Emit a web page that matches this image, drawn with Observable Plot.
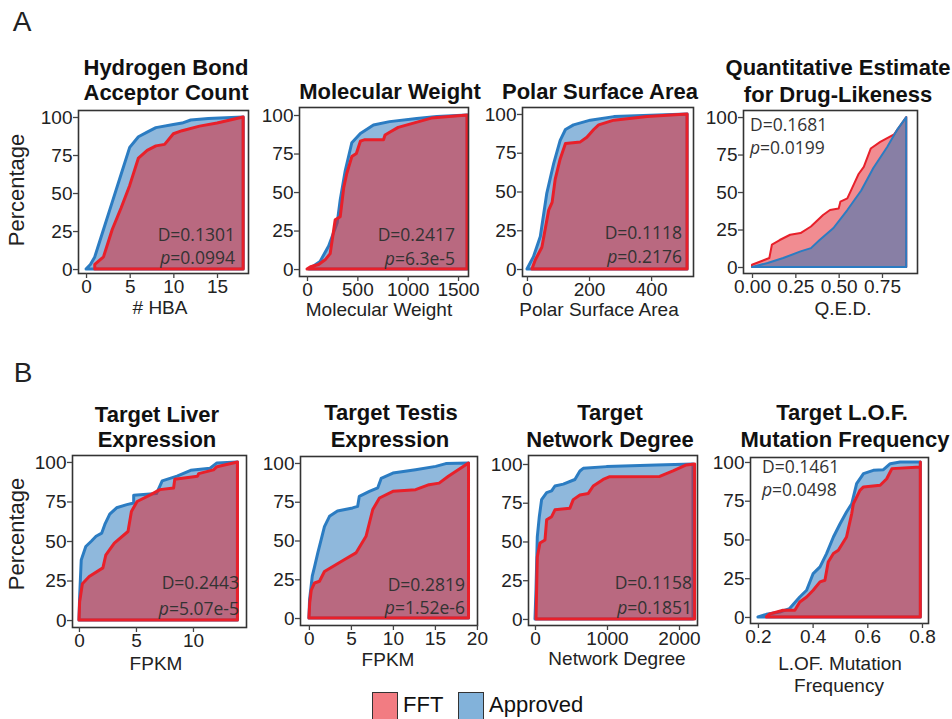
<!DOCTYPE html>
<html>
<head>
<meta charset="utf-8">
<script src="https://cdn.jsdelivr.net/npm/d3@7"></script>
<script src="https://cdn.jsdelivr.net/npm/@observablehq/plot@0.6"></script>
<style>
  html, body { margin: 0; padding: 0; background: #fff; }
  #root { position: relative; width: 952px; height: 719px; overflow: hidden;
          font-family: "Liberation Sans", Arial, Helvetica, sans-serif; color: #222; }
  .abs { position: absolute; white-space: nowrap; line-height: 1; }
  .c { transform: translate(-50%, -50%); text-align: center; }
  .title { font-weight: bold; font-size: 22px; color: #111; }
  .alabel { font-size: 19px; color: #222; }
  .ylab { font-size: 22px; color: #222; transform: translate(-50%, -50%) rotate(-90deg); }
  .letter { font-size: 28px; color: #222; }
  .stat { font-family: "Open Sans", "Noto Sans", sans-serif; font-size: 17.5px; color: #333; }
  .statR { transform: translate(-100%, -50%); }
  .statL { transform: translate(0, -50%); }
  .sw { position: absolute; width: 26px; height: 30px; border: 1px solid #333; box-sizing: border-box; }
  .leg { font-size: 22px; color: #111; }
</style>
</head>
<body>
<div id="root"></div>
<script>
// ---------- DATA ----------
// Legend / series
const seriesNames = ["FFT", "Approved"];

// A1: Hydrogen Bond Acceptor Count
const hbaApprovedX = [0, 0.5, 1, 2, 3, 4, 5, 6, 7, 8, 10, 11, 12, 14, 18];
const hbaApprovedY = [0, 3, 8, 26, 44, 62, 80, 87, 90, 93, 95, 96, 98, 99, 100];
const hbaFftX = [1, 1, 2, 3, 4, 5, 6, 7, 8, 9, 10, 11, 13, 15, 18];
const hbaFftY = [0, 3, 8, 26, 40, 55, 73, 78, 81, 82, 89, 91, 94, 96, 100];

// A2: Molecular Weight
const mwApprovedX = [20, 130, 215, 300, 330, 380, 445, 530, 660, 820, 1090, 1290, 1590];
const mwApprovedY = [0, 5, 15, 30, 45, 64, 82, 88, 93.5, 95.7, 97.8, 99, 100];
const mwFftX = [0, 35, 115, 180, 230, 280, 330, 365, 395, 445, 490, 530, 575, 760, 775, 825, 905, 1155, 1235, 1590];
const mwFftY = [0, 1.5, 3, 6, 10, 32, 34, 53, 62, 73, 75, 83, 84, 84, 87, 89, 92, 96.5, 98, 100];

// A3: Polar Surface Area
const psaApprovedX = [0, 21, 43, 64, 86, 107, 124, 150, 204, 280, 516];
const psaApprovedY = [0, 8, 21, 49, 68, 83, 90, 93, 96, 98.3, 100];
const psaFftX = [16, 27, 48, 70, 81, 91, 107, 124, 172, 193, 215, 231, 280, 387, 516];
const psaFftY = [0, 6, 14, 38, 43, 58, 71, 81, 82, 85, 90, 93, 96, 98.3, 100];

// A4: Quantitative Estimate for Drug-Likeness
const qedApprovedX = [0, 0.09, 0.18, 0.28, 0.34, 0.39, 0.47, 0.55, 0.63, 0.70, 0.78, 0.84, 0.89];
const qedApprovedY = [0, 2.7, 6, 10.4, 12.6, 18, 26, 38, 51, 66, 80, 92, 100];
const qedFftX = [0, 0.1, 0.115, 0.16, 0.22, 0.28, 0.34, 0.41, 0.45, 0.5, 0.51, 0.55, 0.59, 0.615, 0.645, 0.685, 0.74, 0.78, 0.82, 0.89];
const qedFftY = [1.5, 6, 15, 18, 21.5, 22.6, 27, 34.7, 38, 39, 43.6, 45.8, 55.8, 62, 66.8, 79, 83.4, 86, 88.5, 100];

// B1: Target Liver Expression
const liverApprovedX = [0, 0.06, 0.2, 0.6, 1.1, 1.5, 2.0, 2.3, 2.7, 3.3, 4.2, 4.8, 4.8, 6.8, 7.3, 8.6, 9.8, 11.5, 12.1, 13.9];
const liverApprovedY = [0, 15, 38, 46.5, 50, 53, 55, 61, 67, 71, 73, 74, 79, 80, 88, 91, 94.7, 96, 99.4, 100];
const liverFftX = [0, 0.06, 0.3, 0.9, 2.1, 2.35, 3.1, 4.3, 4.6, 5.1, 6.3, 7.1, 8.3, 8.4, 10.4, 10.5, 11.8, 12.1, 13.9];
const liverFftY = [0, 11.6, 23, 27.5, 33, 41, 48.6, 56, 68.7, 75, 79.3, 82.5, 83.5, 89, 91, 92.6, 95, 97, 100];

// B2: Target Testis Expression
const testisApprovedX = [0, 0.08, 0.4, 0.67, 1.06, 1.46, 1.85, 2.45, 3.4, 5.2, 5.8, 6.0, 7.2, 8.2, 8.6, 10, 12.7, 15.1, 16.3, 19];
const testisApprovedY = [0, 12, 27, 33, 42, 50.5, 59, 65.6, 69, 71, 72, 78.5, 81.7, 84, 90, 93.5, 95.7, 97.8, 99.6, 100];
const testisFftX = [0, 0.1, 0.28, 0.67, 1.26, 1.85, 3.2, 4.2, 5.6, 6.8, 7.6, 8.4, 10, 12.7, 14.3, 15.5, 16.6, 19];
const testisFftY = [0, 10, 18, 22.6, 23.7, 30, 34.4, 37.6, 42, 52.7, 70, 77.4, 81.7, 82.8, 86, 87, 91.4, 100];

// B3: Target Network Degree
const netApprovedX = [0, 14, 32, 60, 92, 162, 231, 277, 393, 554, 624, 670, 993, 1686, 2194];
const netApprovedY = [0, 19, 53, 66, 77, 81.5, 82.6, 85.8, 87, 90, 95.5, 97.2, 98.3, 99.4, 100];
const netFftX = [14, 32, 69, 139, 162, 231, 277, 485, 531, 624, 740, 809, 947, 1039, 1732, 1917, 2101, 2217];
const netFftY = [0, 40, 49, 51, 64, 66, 70.4, 71.5, 77, 80, 81, 85.8, 90, 91.8, 92, 95.5, 99.4, 100];

// B4: Target L.O.F. Mutation Frequency
const lofApprovedX = [0.2, 0.231, 0.28, 0.316, 0.353, 0.378, 0.402, 0.427, 0.451, 0.476, 0.5, 0.524, 0.543, 0.561, 0.586, 0.622, 0.659, 0.684, 0.72, 0.794];
const lofApprovedY = [0, 1.7, 3.2, 5.4, 12.9, 17.2, 28, 32.3, 40.9, 51.6, 60, 67.7, 73, 86, 92.5, 94.6, 95, 98.9, 100, 100];
const lofFftX = [0.231, 0.243, 0.292, 0.335, 0.353, 0.378, 0.402, 0.427, 0.445, 0.457, 0.476, 0.494, 0.524, 0.543, 0.549, 0.573, 0.586, 0.647, 0.671, 0.69, 0.794, 0.794];
const lofFftY = [0, 2, 4.3, 4.3, 9.7, 12.9, 17.2, 22.6, 23.7, 35.5, 40.9, 43, 51.6, 66.7, 73, 81.7, 83.9, 85, 89.2, 95.7, 96.8, 100];

// Tick values
const yTicks = [0, 25, 50, 75, 100];
const hbaTicks = [0, 5, 10, 15];
const mwTicks = [0, 500, 1000, 1500];
const psaTicks = [0, 200, 400];
const qedTicks = [0, 0.25, 0.5, 0.75];
const liverTicks = [0, 5, 10];
const testisTicks = [0, 5, 10, 15, 20];
const netTicks = [0, 1000, 2000];
const lofTicks = [0.2, 0.4, 0.6, 0.8];

// Text
const titles = [["Hydrogen Bond", "Acceptor Count"], ["Molecular Weight"], ["Polar Surface Area"], ["Quantitative Estimate", "for Drug-Likeness"],
                ["Target Liver", "Expression"], ["Target Testis", "Expression"], ["Target", "Network Degree"], ["Target L.O.F.", "Mutation Frequency"]];
const xLabels = [["# HBA"], ["Molecular Weight"], ["Polar Surface Area"], ["Q.E.D."], ["FPKM"], ["FPKM"], ["Network Degree"], ["L.OF. Mutation", "Frequency"]];
const statD = ["0.1301", "0.2417", "0.1118", "0.1681", "0.2443", "0.2819", "0.1158", "0.1461"];
const statP = ["0.0994", "6.3e-5", "0.2176", "0.0199", "5.07e-5", "1.52e-6", "0.1851", "0.0498"];

// ---------- STYLE / LAYOUT ----------
const BLUE = "#1f72ba", BLUE_LINE = "#2b7cc2";
const RED = "#e41a24", RED_LINE = "#e8202a";

const panels = [
  { frame: [78, 248, 110, 273], xDomain: [-0.92, 18.55], yDomain: [-2.6, 104.6], xTicks: hbaTicks, fmt: d3.format("d"),
    appr: [hbaApprovedX, hbaApprovedY], fft: [hbaFftX, hbaFftY], fftOnTop: true, sw: 3,
    title: [[166, 68], [166, 93]], xl: [[160, 307]], stat: { side: "R", x: 235, yD: 235, yP: 258 } },
  { frame: [299, 468, 107, 276], xDomain: [-79.5, 1599], yDomain: [-4.5, 105.2], xTicks: mwTicks, fmt: d3.format("d"),
    appr: [mwApprovedX, mwApprovedY], fft: [mwFftX, mwFftY], fftOnTop: true, sw: 3,
    title: [[390, 92]], xl: [[379, 309]], stat: { side: "R", x: 455, yD: 235, yP: 259 } },
  { frame: [522, 693, 107, 276], xDomain: [-16, 535], yDomain: [-4.5, 104.5], xTicks: psaTicks, fmt: d3.format("d"),
    appr: [psaApprovedX, psaApprovedY], fft: [psaFftX, psaFftY], fftOnTop: true, sw: 3,
    title: [[600, 92]], xl: [[599, 309]], stat: { side: "R", x: 682, yD: 233, yP: 257 } },
  { frame: [743, 917, 110, 273], xDomain: [-0.052, 0.952], yDomain: [-4, 104.7], xTicks: qedTicks, fmt: d3.format(".2f"),
    appr: [qedApprovedX, qedApprovedY], fft: [qedFftX, qedFftY], fftOnTop: false, sw: 2,
    title: [[838, 68], [838, 95]], xl: [[843, 308]], stat: { side: "L", x: 750, yD: 125, yP: 148 } },
  { frame: [72, 246, 455, 627], xDomain: [-0.61, 14.65], yDomain: [-4.4, 104.4], xTicks: liverTicks, fmt: d3.format("d"),
    appr: [liverApprovedX, liverApprovedY], fft: [liverFftX, liverFftY], fftOnTop: true, sw: 3,
    title: [[157, 415], [157, 440]], xl: [[156, 663]], stat: { side: "R", x: 239, yD: 583, yP: 609 } },
  { frame: [300, 477, 456, 625], xDomain: [-1.06, 20.01], yDomain: [-4.5, 104.5], xTicks: testisTicks, fmt: d3.format("d"),
    appr: [testisApprovedX, testisApprovedY], fft: [testisFftX, testisFftY], fftOnTop: true, sw: 3,
    title: [[391, 413], [390, 440]], xl: [[388, 659]], stat: { side: "R", x: 465, yD: 585, yP: 608 } },
  { frame: [528, 697, 455, 625], xDomain: [-97, 2250], yDomain: [-3.9, 105.8], xTicks: netTicks, fmt: d3.format("d"),
    appr: [netApprovedX, netApprovedY], fft: [netFftX, netFftY], fftOnTop: true, sw: 3,
    title: [[610, 413], [610, 440]], xl: [[617, 658]], stat: { side: "R", x: 692, yD: 583, yP: 608 } },
  { frame: [750, 928, 457, 623], xDomain: [0.171, 0.822], yDomain: [-3.9, 103.2], xTicks: lofTicks, fmt: d3.format(".1f"),
    appr: [lofApprovedX, lofApprovedY], fft: [lofFftX, lofFftY], fftOnTop: true, sw: 3,
    title: [[842, 413], [845, 440]], xl: [[840, 663], [839, 685]], stat: { side: "L", x: 762, yD: 467, yP: 490 } }
];

const root = document.getElementById("root");
function addDiv(cls, x, y, html) {
  const d = document.createElement("div");
  d.className = "abs " + cls;
  d.style.left = x + "px";
  d.style.top = y + "px";
  d.innerHTML = html;
  root.appendChild(d);
  return d;
}
const rows = (xs, ys) => xs.map((x, i) => ({ x, y: ys[i] }));

panels.forEach((p, i) => {
  const [L, R, T, B] = p.frame;
  const mL = 46, mR = 16, mT = 6, mB = 34;
  // explicit y1/y2 so that no implicit stacking happens at repeated x values
  const blueArea = Plot.areaY(rows(...p.appr), { x: "x", y1: 0, y2: "y", fill: BLUE, fillOpacity: 0.5,
    stroke: BLUE_LINE, strokeWidth: p.sw, strokeLinejoin: "round" });
  const redArea = Plot.areaY(rows(...p.fft), { x: "x", y1: 0, y2: "y", fill: RED, fillOpacity: 0.5,
    stroke: RED_LINE, strokeWidth: p.sw, strokeLinejoin: "round" });
  const areas = p.fftOnTop ? [blueArea, redArea] : [redArea, blueArea];
  const svg = Plot.plot({
    width: R - L + mL + mR, height: B - T + mT + mB,
    marginLeft: mL, marginRight: mR, marginTop: mT, marginBottom: mB,
    x: { domain: p.xDomain }, y: { domain: p.yDomain },
    style: { fontSize: "19px", fontFamily: '"Liberation Sans", Arial, Helvetica, sans-serif', color: "#222",
             background: "transparent", overflow: "visible" },
    marks: [
      ...areas,
      Plot.frame({ stroke: "#333", strokeWidth: 1.6 }),
      Plot.axisX({ ticks: p.xTicks, tickFormat: p.fmt, tickSize: 5, tickPadding: 1, label: null, stroke: "#444", strokeWidth: 1.3 }),
      Plot.axisY({ ticks: yTicks, tickSize: 5, tickPadding: 1, label: null, stroke: "#444", strokeWidth: 1.3 })
    ]
  });
  const wrap = document.createElement("div");
  wrap.style.position = "absolute";
  wrap.style.left = (L - mL) + "px";
  wrap.style.top = (T - mT) + "px";
  wrap.appendChild(svg);
  root.appendChild(wrap);

  titles[i].forEach((t, k) => addDiv("c title", p.title[k][0], p.title[k][1], t));
  xLabels[i].forEach((t, k) => addDiv("c alabel", p.xl[k][0], p.xl[k][1], t));
  const s = p.stat, cls = "stat " + (s.side === "R" ? "statR" : "statL");
  addDiv(cls, s.x, s.yD, "D=" + statD[i]);
  addDiv(cls, s.x, s.yP, "<i>p</i>=" + statP[i]);
});

// y labels and panel letters
addDiv("ylab", 17, 190, "Percentage");
addDiv("ylab", 17, 534, "Percentage");
addDiv("c letter", 22, 22, "A");
addDiv("c letter", 23, 373, "B");

// legend
const legColors = ["#f27c82", "#82b2da"];
const legX = [372, 458];
seriesNames.forEach((n, k) => {
  const sw = document.createElement("div");
  sw.className = "sw";
  sw.style.left = legX[k] + "px";
  sw.style.top = "692px";
  sw.style.background = legColors[k];
  root.appendChild(sw);
  const t = addDiv("leg", legX[k] + 31, 705, n);
  t.style.transform = "translate(0,-50%)";
});
</script>
</body>
</html>
